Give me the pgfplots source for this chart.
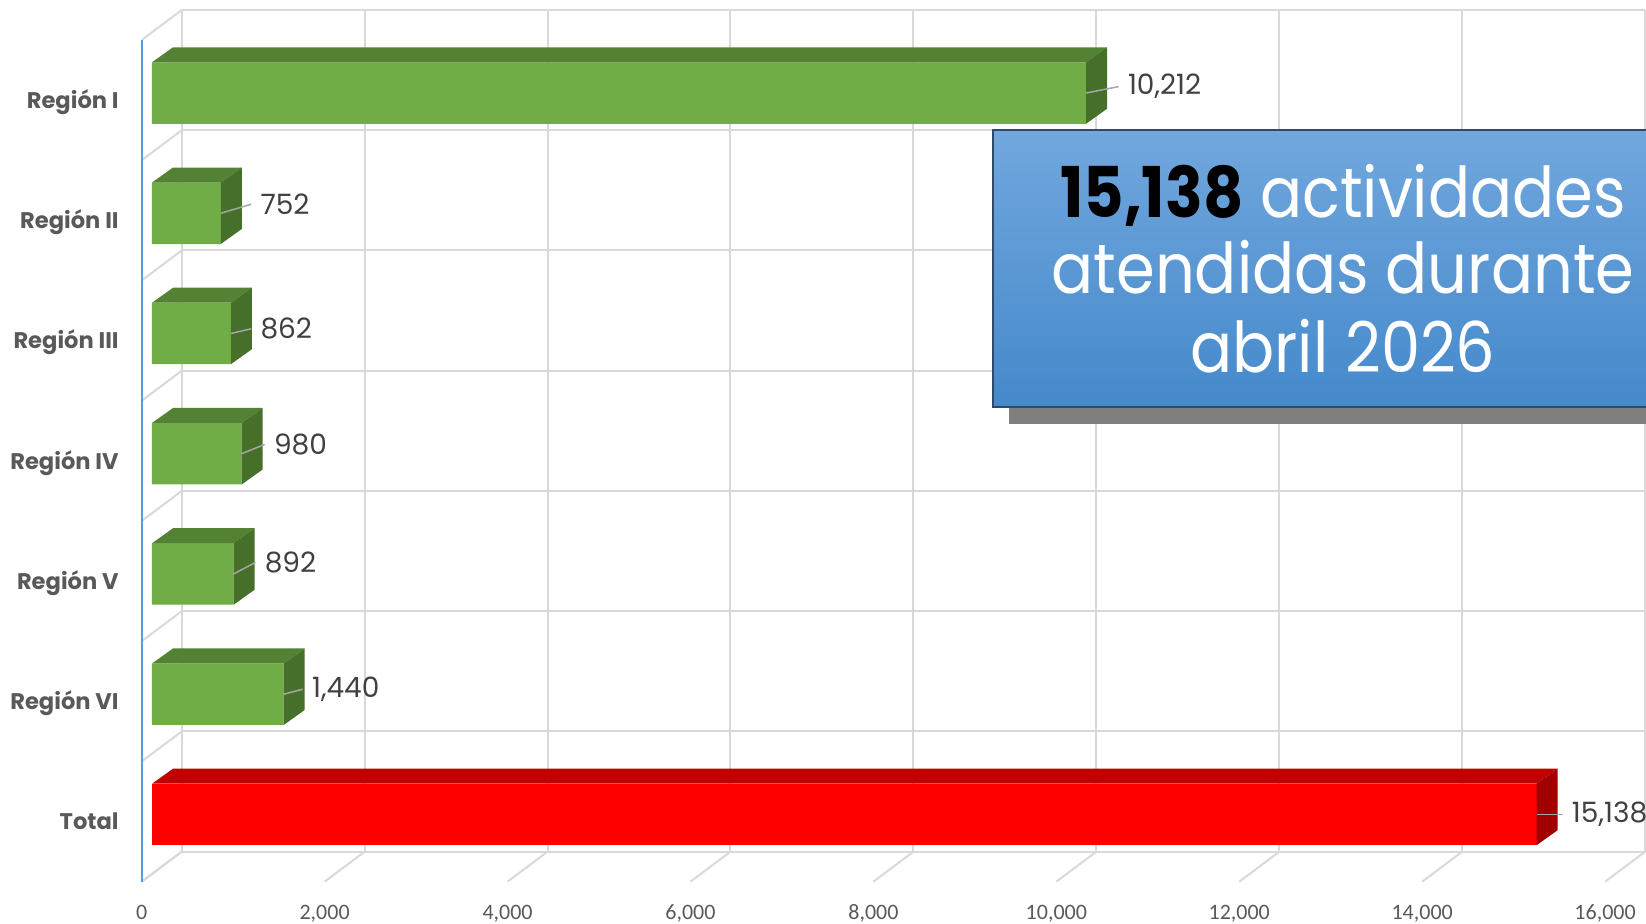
\documentclass[border=0pt]{standalone}
\usepackage{fontspec}
\setmainfont{Poppins}
\newfontfamily\tickfont{Carlito}
\newfontfamily\boxfont[FakeStretch=0.89]{Poppins}
\newfontfamily\labfont{Poppins}
\usepackage{pgfplots}
\pgfplotsset{compat=1.18}
\usepackage{pgfplotstable}

\definecolor{gfront}{HTML}{70AD47}
\definecolor{gtop}{HTML}{548235}
\definecolor{gside}{HTML}{466F2A}
\definecolor{rfront}{HTML}{FF0000}
\definecolor{rtop}{HTML}{C00000}
\definecolor{rside}{HTML}{A00000}
\definecolor{gridc}{HTML}{D9D9D9}
\definecolor{axblue}{HTML}{5B9BD5}
\definecolor{leadc}{HTML}{A6A6A6}
\definecolor{labc}{HTML}{404040}
\definecolor{catc}{HTML}{595959}
\definecolor{boxtop}{HTML}{71A7DD}
\definecolor{boxbot}{HTML}{4589CB}
\definecolor{boxedge}{HTML}{2F4B6B}
\definecolor{shadowc}{HTML}{7F7F7F}

% 3D faces (top and side) and leader line, drawn at each data point
\newcommand\declbox[3]{%
\pgfdeclareplotmark{#1}{%
  \pgfmathsetmacro\Lb{\val/16000*731.7}%
  \pgfpathmoveto{\pgfpoint{-\Lb pt}{15.375pt}}%
  \pgfpathlineto{\pgfpoint{0pt}{15.375pt}}%
  \pgfpathlineto{\pgfpoint{10.5pt}{22.875pt}}%
  \pgfpathlineto{\pgfpoint{-\Lb pt+10.5pt}{22.875pt}}%
  \pgfpathclose
  \pgfsetfillcolor{#2}\pgfusepath{fill}%
  \pgfpathmoveto{\pgfpoint{0pt}{-15.375pt}}%
  \pgfpathlineto{\pgfpoint{0pt}{15.375pt}}%
  \pgfpathlineto{\pgfpoint{10.5pt}{22.875pt}}%
  \pgfpathlineto{\pgfpoint{10.5pt}{-7.875pt}}%
  \pgfpathclose
  \pgfsetfillcolor{#3}\pgfusepath{fill}%
  \pgfsetstrokecolor{leadc}\pgfsetlinewidth{0.75pt}%
  \pgfpathmoveto{\pgfpoint{0pt}{0pt}}%
  \pgfpathlineto{\pgfpoint{\lx*0.5pt-4.5pt}{\ly*0.5pt}}%
  \pgfusepath{stroke}%
}}
\declbox{gbox}{gtop}{gside}
\declbox{rbox}{rtop}{rside}

\pgfplotstableread{
v y lx ly
10212 6 41.6 6.4
752 5 39.4 9
862 4 29.3 4.7
980 3 32 9.3
892 2 30.8 11.5
1440 1 28 5
}\regions
\pgfplotstableread{
v y lx ly
15138 0 35 0
}\total

\begin{document}
\begin{tikzpicture}
\begin{axis}[
  at={(0pt,0pt)}, anchor=south west, scale only axis,
  width=731.7pt, height=420.85pt,
  xmin=0, xmax=16000, ymin=-0.5, ymax=6.5,
  clip=false, axis line style={draw=none}, major tick length=0pt, tick style={draw=none},
  xtick={0,2000,4000,6000,8000,10000,12000,14000,16000},
  ytick={0,1,2,3,4,5,6},
  yticklabels={Total,Región VI,Región V,Región IV,Región III,Región II,Región I},
  scaled x ticks=false,
  /pgf/number format/1000 sep={,},
  /pgf/number format/assume math mode=true,
  xticklabel style={font=\tickfont\fontsize{11}{11}\selectfont, text=catc, anchor=base, inner sep=0pt, xshift=-5.15pt, yshift=-22.4pt},
  yticklabel style={font=\bfseries\fontsize{11.3}{11.3}\selectfont, text=catc, anchor=base east, inner sep=0pt, xshift=-16.5pt, yshift=-7.65pt},
]
\pgfplotsinvokeforeach{0,2000,4000,6000,8000,10000,12000,14000,16000}{%
  \draw[gridc, line width=1pt] ([shift={(14.85pt,11.45pt)}]axis cs:#1,-0.5) -- ([shift={(14.85pt,11.45pt)}]axis cs:#1,6.5);
  \draw[gridc, line width=1pt] ([shift={(14.85pt,11.45pt)}]axis cs:#1,-0.5) -- ([shift={(-5.15pt,-3.55pt)}]axis cs:#1,-0.5);
}
\pgfplotsinvokeforeach{-0.5,0.5,1.5,2.5,3.5,4.5,5.5,6.5}{%
  \draw[gridc, line width=1pt] ([shift={(14.85pt,11.45pt)}]axis cs:0,#1) -- ([shift={(14.85pt,11.45pt)}]axis cs:16000,#1);
  \draw[gridc, line width=1pt] ([shift={(14.85pt,11.45pt)}]axis cs:0,#1) -- ([shift={(-5.15pt,-3.55pt)}]axis cs:0,#1);
}
\draw[axblue, line width=1.1pt] ([shift={(-5.15pt,-3.55pt)}]axis cs:0,-0.5) -- ([shift={(-5.15pt,-3.55pt)}]axis cs:0,6.5);

\addplot[only marks, mark=gbox,
  visualization depends on={\thisrow{v} \as \val},
  visualization depends on={\thisrow{lx} \as \lx},
  visualization depends on={\thisrow{ly} \as \ly},
] table[x=v, y=y] {\regions};
\addplot[only marks, mark=rbox,
  visualization depends on={\thisrow{v} \as \val},
  visualization depends on={\thisrow{lx} \as \lx},
  visualization depends on={\thisrow{ly} \as \ly},
] table[x=v, y=y] {\total};

\addplot[xbar, bar width=30.75pt, fill=gfront, draw=none, point meta=x,
  visualization depends on={\thisrow{lx} \as \lx},
  visualization depends on={\thisrow{ly} \as \ly},
  nodes near coords={\pgfmathprintnumber{\pgfplotspointmeta}},
  nodes near coords style={anchor=west, inner sep=0pt, xshift={\lx*0.5pt}, yshift={\ly*0.5pt}, font=\labfont\fontsize{14}{14}\selectfont, text=labc},
] table[x=v, y=y] {\regions};
\addplot[xbar, bar width=30.75pt, fill=rfront, draw=none, point meta=x,
  visualization depends on={\thisrow{lx} \as \lx},
  visualization depends on={\thisrow{ly} \as \ly},
  nodes near coords={\pgfmathprintnumber{\pgfplotspointmeta}},
  nodes near coords style={anchor=west, inner sep=0pt, xshift={\lx*0.5pt}, yshift={\ly*0.5pt}, font=\labfont\fontsize{14}{14}\selectfont, text=labc},
] table[x=v, y=y] {\total};
\end{axis}

\fill[shadowc] (428.5pt,225.3pt) rectangle (760pt,300pt);
\shadedraw[top color=boxtop, bottom color=boxbot, draw=boxedge, line width=0.6pt] (420.5pt,233.8pt) rectangle (760pt,372.3pt);
\node[anchor=base, font=\boxfont\fontsize{35}{35}\selectfont, text=white, inner sep=0pt] at (595.5pt,328.65pt) {{\bfseries\color{black}15,138} actividades};
\node[anchor=base, font=\boxfont\fontsize{35}{35}\selectfont, text=white, inner sep=0pt] at (595.5pt,290.3pt) {atendidas durante};
\node[anchor=base, font=\boxfont\fontsize{35}{35}\selectfont, text=white, inner sep=0pt] at (595.5pt,250.95pt) {abril 2026};

\pgfresetboundingbox
\useasboundingbox (-76pt,-24.7pt) rectangle (747pt,437.3pt);
\end{tikzpicture}
\end{document}
